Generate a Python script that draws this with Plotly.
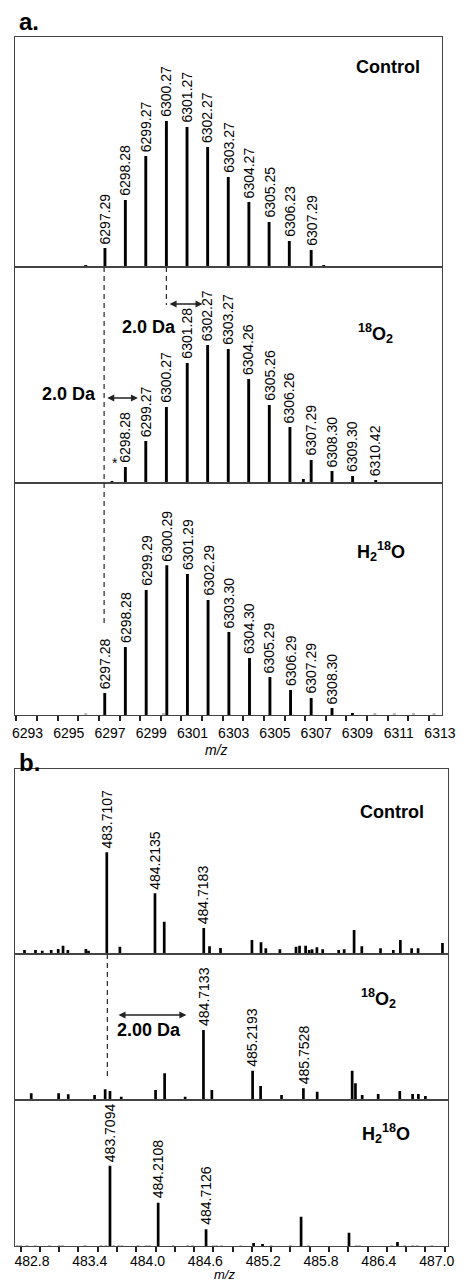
import plotly.graph_objects as go

# ---------------- DATA ----------------
# Panel a: intact protein isotope clusters (relative intensity, base peak = 100)
a_ctrl_mz = [6297.29, 6298.28, 6299.27, 6300.27, 6301.27, 6302.27, 6303.27, 6304.27, 6305.25, 6306.23, 6307.29]
a_ctrl_int = [13.0, 45.9, 76.0, 100, 95.9, 82.2, 61.6, 44.5, 30.8, 17.8, 11.6]
a_ctrl_minor_mz = [6296.36, 6307.90]
a_ctrl_minor_int = [1.0, 1.0]

a_o2_mz = [6298.28, 6299.27, 6300.27, 6301.28, 6302.27, 6303.27, 6304.26, 6305.26, 6306.26, 6307.29, 6308.30, 6309.30, 6310.42]
a_o2_int = [11.6, 30.4, 55.1, 87.0, 100, 97.1, 75.4, 56.5, 40.6, 16.7, 8.7, 5.1, 2.2]
a_o2_minor_mz = [6297.63, 6306.91, 6307.66]
a_o2_minor_int = [0.8, 2.9, 0.7]

a_h2o_mz = [6297.28, 6298.28, 6299.29, 6300.29, 6301.29, 6302.29, 6303.30, 6304.30, 6305.29, 6306.29, 6307.29, 6308.30]
a_h2o_int = [14.7, 45.4, 83.5, 100, 94.2, 76.8, 55.4, 38.1, 25.4, 16.7, 11.4, 4.7]
a_h2o_minor_mz = [6309.29]
a_h2o_minor_int = [1.3]
a_h2o_noise_mz = [6296.36, 6300.13, 6310.38, 6311.32, 6312.25, 6313.25]
a_h2o_noise_int = [0.7, 0.7, 0.7, 0.7, 0.7, 0.7]

# Panel b: peptide isotope clusters (positions as drawn on the axis)
b_ctrl_mz = [482.64, 482.754, 482.824, 482.917, 482.99, 483.04, 483.09, 483.277, 483.304, 483.494,
             483.63, 483.994, 484.09, 484.5, 484.56, 484.674, 485.0, 485.094, 485.144, 485.29,
             485.457, 485.494, 485.557, 485.594, 485.624, 485.674, 485.734, 485.9, 485.957, 486.06,
             486.14, 486.334, 486.467, 486.54, 486.657, 486.724, 486.977]
b_ctrl_int = [3.9, 3.9, 3.2, 3.9, 4.9, 8.2, 3.9, 4.9, 3.2, 100,
              7.2, 59.7, 31.8, 25.6, 7.6, 5.9, 13.8, 11.5, 5.6, 4.6,
              7.2, 8.2, 8.2, 3.9, 4.6, 6.6, 4.6, 3.9, 4.6, 23.6,
              7.6, 5.6, 3.9, 13.8, 5.6, 5.6, 10.8]
b_ctrl_labels = [""] * 9 + ["483.7107", "", "484.2135", "", "484.7183"] + [""] * 23

b_o2_mz = [482.71, 482.994, 483.094, 483.367, 483.477, 483.527, 483.644, 484.0, 484.094, 484.307,
           484.497, 484.584, 485.007, 485.09, 485.307, 485.534, 485.677, 486.04, 486.074, 486.144,
           486.31, 486.534, 486.667, 486.727, 486.8]
b_o2_int = [9.6, 9.6, 8.1, 7.1, 15.3, 12.9, 4.7, 14.3, 38.1, 4.7,
            100, 14.3, 41.9, 20.0, 7.1, 16.7, 11.9, 41.9, 23.9, 7.1,
            8.6, 12.9, 8.6, 8.6, 5.7]
b_o2_labels = [""] * 10 + ["484.7133", "", "485.2193", "", "", "485.7528"] + [""] * 9

b_h2o_mz = [483.527, 484.027, 484.524, 485.017, 485.11, 485.51, 486.007, 486.51]
b_h2o_int = [100, 53.9, 20.8, 3.7, 2.5, 36.5, 16.6, 5.0]
b_h2o_labels = ["483.7094", "484.2108", "484.7126", "", "", "", "", ""]
b_h2o_noise_mz = [482.567, 482.6, 482.667, 482.75, 482.9, 483.0, 483.034, 483.267, 483.434, 483.484,
                  483.567, 483.617, 483.65, 483.817, 483.9, 483.934, 484.184, 484.334, 484.384, 484.6,
                  484.634, 484.684, 484.884, 485.2, 485.4, 485.584, 486.084, 486.117, 486.45, 486.584,
                  486.667, 486.717, 486.867]
b_h2o_noise_int = [0.8] * 33

a_tick0, a_dtick = 6293, 2
b_tick0, b_dtick = 482.8, 0.6

# ---------------- LAYOUT GEOMETRY ----------------
W, H = 469, 1284
FONT = "Liberation Sans, Arial, Helvetica, sans-serif"


def fx(px):
    return px / W


def fy(py):
    return 1 - py / H


A_X = [fx(12.7), fx(455)]
B_X = [fx(12.7), fx(462)]
panels = {
    # name: (xdomain, (top_px, bottom_px), yrange_max, xrange)
    "a1": (A_X, (37, 267), 157.5, [6292.94, 6313.61]),
    "a2": (A_X, (267, 483), 156.5, [6292.94, 6313.61]),
    "a3": (A_X, (483, 715), 155.0, [6292.94, 6313.61]),
    "b1": (B_X, (769, 954), 181.9, [482.544, 487.037]),
    "b2": (B_X, (954, 1100), 208.6, [482.544, 487.037]),
    "b3": (B_X, (1100, 1246), 181.8, [482.544, 487.037]),
}
order = ["a1", "a2", "a3", "b1", "b2", "b3"]
ax_id = {name: ("" if i == 0 else str(i + 1)) for i, name in enumerate(order)}

fig = go.Figure()
LINE = "#444444"

layout = dict(
    width=W, height=H, margin=dict(l=0, r=0, t=0, b=0),
    paper_bgcolor="white", plot_bgcolor="white",
    showlegend=False, barmode="overlay",
    font=dict(family=FONT, size=14, color="black"),
)

for name in order:
    xd, (top, bot), ymax, xr = panels[name]
    i = ax_id[name]
    xa = dict(domain=xd, range=xr, anchor="y" + i, showgrid=False, zeroline=False,
              showline=True, mirror=True, linecolor=LINE, linewidth=1.2,
              showticklabels=False, ticks="")
    ya = dict(domain=[fy(bot), fy(top)], range=[0, ymax], anchor="x" + i, showgrid=False,
              zeroline=False, showline=True, mirror=True, linecolor=LINE, linewidth=1.2,
              showticklabels=False, ticks="", fixedrange=True)
    if name == "a3":
        xa.update(showticklabels=True, ticks="outside", ticklen=5, tickwidth=2, tickcolor="#222",
                  tickmode="linear", tick0=a_tick0, dtick=a_dtick,
                  minor=dict(ticks="outside", ticklen=5, tickwidth=2, tickcolor="#222", dtick=1),
                  tickfont=dict(size=14, family=FONT), ticklabelshift=11)
    if name == "b3":
        xa.update(showticklabels=True, ticks="outside", ticklen=5, tickwidth=2, tickcolor="#222",
                  tickmode="linear", tick0=b_tick0, dtick=b_dtick, tickformat=".1f",
                  minor=dict(ticks="outside", ticklen=5, tickwidth=2, tickcolor="#222", dtick=0.2),
                  tickfont=dict(size=14, family=FONT), ticklabelshift=-8, ticklabelstandoff=-3)
    layout["xaxis" + i] = xa
    layout["yaxis" + i] = ya

fig.update_layout(**layout)


def add_bars(name, xs, ys, width, color="black"):
    i = ax_id[name]
    fig.add_trace(go.Bar(x=xs, y=ys, width=width, marker=dict(color=color, line=dict(width=0)),
                         xaxis="x" + i, yaxis="y" + i, hoverinfo="x+y"))


annotations = []


def add_labels(name, xs, ys, texts):
    i = ax_id[name]
    for x, y, t in zip(xs, ys, texts):
        if not t:
            continue
        annotations.append(dict(x=x, y=y, xref="x" + i, yref="y" + i, text=t, showarrow=False,
                                textangle=-90, xanchor="center", yanchor="bottom", yshift=2,
                                font=dict(size=14, family=FONT, color="black")))


WA, WB = 0.14, 0.028
add_bars("a1", a_ctrl_mz, a_ctrl_int, WA)
add_bars("a1", a_ctrl_minor_mz, a_ctrl_minor_int, WA)
add_labels("a1", a_ctrl_mz, a_ctrl_int, [f"{v:.2f}" for v in a_ctrl_mz])

add_bars("a2", a_o2_mz, a_o2_int, WA)
add_bars("a2", a_o2_minor_mz, a_o2_minor_int, WA)
add_labels("a2", a_o2_mz, a_o2_int, [f"{v:.2f}" for v in a_o2_mz])

add_bars("a3", a_h2o_mz, a_h2o_int, WA)
add_bars("a3", a_h2o_minor_mz, a_h2o_minor_int, WA)
add_bars("a3", a_h2o_noise_mz, a_h2o_noise_int, WA, color="#b8b8b8")
add_labels("a3", a_h2o_mz, a_h2o_int, [f"{v:.2f}" for v in a_h2o_mz])

add_bars("b1", b_ctrl_mz, b_ctrl_int, WB)
add_labels("b1", b_ctrl_mz, b_ctrl_int, b_ctrl_labels)
add_bars("b2", b_o2_mz, b_o2_int, WB)
add_labels("b2", b_o2_mz, b_o2_int, b_o2_labels)
add_bars("b3", b_h2o_noise_mz, b_h2o_noise_int, WB, color="#b8b8b8")
add_bars("b3", b_h2o_mz, b_h2o_int, WB)
add_labels("b3", b_h2o_mz, b_h2o_int, b_h2o_labels)


def ptext(px, py, text, size=18, bold=True, italic=False, xanchor="center"):
    t = text
    if bold:
        t = "<b>" + t + "</b>"
    if italic:
        t = "<i>" + t + "</i>"
    annotations.append(dict(x=fx(px), y=fy(py), xref="paper", yref="paper", text=t,
                            showarrow=False, xanchor=xanchor, yanchor="middle",
                            font=dict(size=size, family=FONT, color="black")))


# panel letters
ptext(27, 22, "a.", size=24)
ptext(28, 762, "b.", size=24)
# condition labels
ptext(399, 67, "Control")
ptext(386, 333, "<sup>18</sup>O<sub>2</sub>")
ptext(392, 551, "H<sub>2</sub><sup>18</sup>O")
ptext(404, 812, "Control")
ptext(390, 998, "<sup>18</sup>O<sub>2</sub>")
ptext(397, 1133, "H<sub>2</sub><sup>18</sup>O")
# shift labels
ptext(151, 327, "2.0 Da")
ptext(69, 394, "2.0 Da")
ptext(151, 1030, "2.00 Da")
ptext(116.7, 463, "*", size=14, bold=False)
# axis titles
ptext(222, 750, "m/z", size=14, bold=False, italic=True)
ptext(230, 1274.5, "m/z", size=13, bold=False, italic=True)


def darrow(xref, x0, x1, py):
    annotations.append(dict(x=x1, ax=x0, xref=xref, axref=xref, y=fy(py), yref="paper",
                            ay=0, ayref="pixel", text="", showarrow=True,
                            arrowhead=2, startarrowhead=2, arrowside="end+start",
                            arrowsize=1, arrowwidth=1.4, arrowcolor="#222"))


darrow("x", 6300.35, 6302.02, 304)
darrow("x", 6297.33, 6298.89, 398)
darrow("x4", 483.6, 484.32, 1015)

shapes = [
    dict(type="line", xref="x", yref="paper", x0=6297.25, x1=6297.25, y0=fy(267), y1=fy(625),
         line=dict(color="#333", width=1.3, dash="5px,4px")),
    dict(type="line", xref="x", yref="paper", x0=6300.27, x1=6300.27, y0=fy(267), y1=fy(305),
         line=dict(color="#333", width=1.3, dash="5px,4px")),
    dict(type="line", xref="x4", yref="paper", x0=483.5, x1=483.5, y0=fy(954), y1=fy(1080),
         line=dict(color="#333", width=1.3, dash="5px,4px")),
]

fig.update_layout(annotations=annotations, shapes=shapes)
fig.write_html("out.html")
